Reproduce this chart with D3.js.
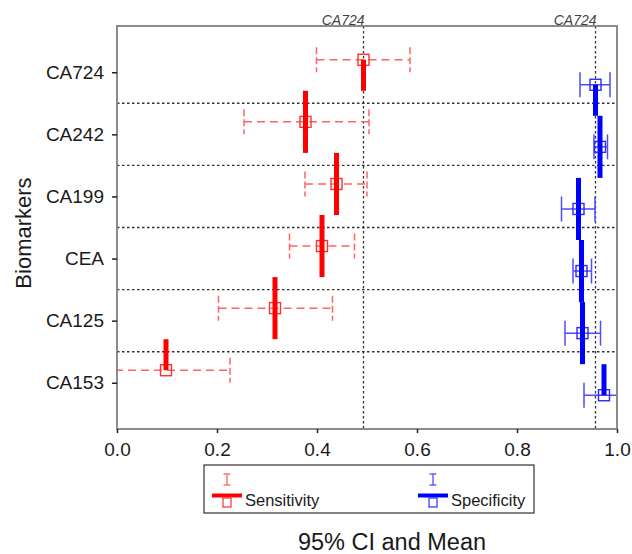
<!DOCTYPE html>
<meta charset="utf-8">
<style>
  body { margin: 0; background: #fff; }
  text { font-family: 'Liberation Sans', Arial, sans-serif; }
</style>
<svg width="632" height="554"></svg>
<script src="https://cdn.jsdelivr.net/npm/d3@7"></script>
<script>

// values
var categories = ["CA724", "CA242", "CA199", "CEA", "CA125", "CA153"];
var sensMean = [0.493, 0.377, 0.439, 0.410, 0.316, 0.098];
var sensLow  = [0.399, 0.254, 0.376, 0.345, 0.203, -0.03];
var sensHigh = [0.586, 0.504, 0.500, 0.475, 0.431, 0.226];
var specMean = [0.957, 0.966, 0.923, 0.929, 0.931, 0.974];
var specLow  = [0.926, 0.954, 0.889, 0.912, 0.896, 0.934];
var specHigh = [0.986, 0.981, 0.956, 0.949, 0.967, 1.01];
var xTicks = [0, 0.2, 0.4, 0.6, 0.8, 1.0];

var svg = d3.select("svg");
var pLeft = 117, pRight = 617, pTop = 26, pBottom = 429;

var x = d3.scaleLinear().domain([0, 1]).range([pLeft, pRight]);
var y = d3.scalePoint().domain(categories).range([pTop, pBottom]).padding(0.745);
var step = y.step();

svg.append("clipPath").attr("id", "plot")
  .append("rect").attr("x", pLeft).attr("y", pTop)
  .attr("width", pRight - pLeft).attr("height", pBottom - pTop);

var plot = svg.append("g").attr("clip-path", "url(#plot)");

// dotted separators between rows
plot.selectAll(".sep")
  .data(categories.slice(1))
  .enter().append("line")
    .attr("x1", pLeft).attr("x2", pRight)
    .attr("y1", function(d) { return y(d) - step / 2; })
    .attr("y2", function(d) { return y(d) - step / 2; })
    .style("stroke", "#333")
    .style("stroke-width", 1.4)
    .style("stroke-dasharray", "2.5,2.5");

// reference lines at the CA724 means
var refs = [sensMean[0], specMean[0]];
plot.selectAll(".ref")
  .data(refs)
  .enter().append("line")
    .attr("x1", function(d) { return x(d); })
    .attr("x2", function(d) { return x(d); })
    .attr("y1", pTop).attr("y2", pBottom)
    .style("stroke", "#333")
    .style("stroke-width", 1.3)
    .style("stroke-dasharray", "2.5,2.5");

svg.selectAll(".reflabel")
  .data(refs)
  .enter().append("text")
    .attr("x", function(d) { return x(d) + 1; })
    .attr("y", pTop - 1.5)
    .attr("text-anchor", "end")
    .style("font-size", "14px")
    .style("font-style", "italic")
    .style("fill", "#444")
    .text("CA724");

function series(mean, low, high, off, opts) {
  var rows = categories.map(function(c, i) {
    return {c: c, m: mean[i], lo: low[i], hi: high[i], y: y(c) + off};
  });
  var g = plot.append("g");

  // CI lines
  g.selectAll(".ci").data(rows).enter().append("line")
    .attr("x1", function(d) { return x(d.lo); })
    .attr("x2", function(d) { return x(d.hi); })
    .attr("y1", function(d) { return d.y; })
    .attr("y2", function(d) { return d.y; })
    .style("stroke", opts.ci)
    .style("stroke-width", 1.5)
    .style("stroke-dasharray", opts.dash);

  var caps = [];
  rows.forEach(function(d) { caps.push({v: d.lo, y: d.y}, {v: d.hi, y: d.y}); });
  g.selectAll(".cap").data(caps).enter().append("line")
    .attr("x1", function(d) { return x(d.v); })
    .attr("x2", function(d) { return x(d.v); })
    .attr("y1", function(d) { return d.y - 12.5; })
    .attr("y2", function(d) { return d.y + 12.5; })
    .style("stroke", opts.ci)
    .style("stroke-width", 1.5)
    .style("stroke-dasharray", opts.capDash);

  // squares at the mean
  g.selectAll(".sq").data(rows).enter().append("rect")
    .attr("x", function(d) { return x(d.m) - 5.5; })
    .attr("y", function(d) { return d.y - 5.5; })
    .attr("width", 11).attr("height", 11)
    .style("fill", "none")
    .style("stroke", opts.sq)
    .style("stroke-width", 1.4);

  // thick step segments through the means
  g.selectAll(".step").data(rows).enter().append("line")
    .attr("x1", function(d) { return x(d.m); })
    .attr("x2", function(d) { return x(d.m); })
    .attr("y1", function(d, i) { return i === 0 ? d.y : d.y - step / 2; })
    .attr("y2", function(d, i) { return i === rows.length - 1 ? d.y : d.y + step / 2; })
    .style("stroke", opts.line)
    .style("stroke-width", 5);
}

series(sensMean, sensLow, sensHigh, -12.5,
  {ci: "#ff6464", sq: "#ff3030", line: "#ff0000", dash: "8,5", capDash: "7,3"});
series(specMean, specLow, specHigh, 12.5,
  {ci: "#4d4dff", sq: "#2a2aff", line: "#0000ff", dash: null, capDash: null});

// frame
svg.append("rect")
  .attr("x", pLeft).attr("y", pTop)
  .attr("width", pRight - pLeft).attr("height", pBottom - pTop)
  .style("fill", "none")
  .style("stroke", "#808080")
  .style("stroke-width", 1.8);

// axes
var xAxis = svg.append("g")
  .attr("transform", "translate(0," + pBottom + ")")
  .call(d3.axisBottom(x).tickValues(xTicks).tickFormat(d3.format(".1f"))
    .tickSize(4).tickSizeOuter(0).tickPadding(10));
xAxis.select(".domain").remove();
xAxis.selectAll("line").style("stroke", "#222").style("stroke-width", 1.5);
xAxis.selectAll("text").style("font-size", "19px").style("fill", "#1a1a1a")
  .style("font-family", "'Liberation Sans', Arial, sans-serif");

var yAxis = svg.append("g")
  .attr("transform", "translate(" + pLeft + ",0)")
  .call(d3.axisLeft(y).tickSize(5).tickSizeOuter(0).tickPadding(8));
yAxis.select(".domain").remove();
yAxis.selectAll("line").style("stroke", "#222").style("stroke-width", 1.5);
yAxis.selectAll("text").style("font-size", "19px").style("fill", "#1a1a1a")
  .style("font-family", "'Liberation Sans', Arial, sans-serif");

// axis titles
svg.append("text")
  .attr("transform", "translate(31,233) rotate(-90)")
  .attr("text-anchor", "middle")
  .style("font-size", "22px")
  .style("fill", "#1a1a1a")
  .text("Biomarkers");

svg.append("text")
  .attr("x", 392).attr("y", 550)
  .attr("text-anchor", "middle")
  .style("font-size", "23.5px")
  .style("fill", "#1a1a1a")
  .text("95% CI and Mean");

// legend
var legendItems = [
  {name: "Sensitivity", ci: "#ff6464", sq: "#ff3030", line: "#ff0000", cx: 227},
  {name: "Specificity", ci: "#4d4dff", sq: "#2a2aff", line: "#0000ff", cx: 433}
];
var legend = svg.append("g");
legend.append("rect")
  .attr("x", 204).attr("y", 465).attr("width", 330).attr("height", 48)
  .style("fill", "#fff").style("stroke", "#333").style("stroke-width", 1.2);

var li = legend.selectAll(".item").data(legendItems).enter().append("g");
li.append("line")
  .attr("x1", function(d) { return d.cx; }).attr("x2", function(d) { return d.cx; })
  .attr("y1", 474).attr("y2", 485)
  .style("stroke", function(d) { return d.ci; }).style("stroke-width", 1.3);
li.append("line")
  .attr("x1", function(d) { return d.cx - 3.5; }).attr("x2", function(d) { return d.cx + 3.5; })
  .attr("y1", 474).attr("y2", 474)
  .style("stroke", function(d) { return d.ci; }).style("stroke-width", 1.3);
li.append("line")
  .attr("x1", function(d) { return d.cx - 3.5; }).attr("x2", function(d) { return d.cx + 3.5; })
  .attr("y1", 485).attr("y2", 485)
  .style("stroke", function(d) { return d.ci; }).style("stroke-width", 1.3);
li.append("line")
  .attr("x1", function(d) { return d.cx - 15; }).attr("x2", function(d) { return d.cx + 15; })
  .attr("y1", 495.5).attr("y2", 495.5)
  .style("stroke", function(d) { return d.line; }).style("stroke-width", 4);
li.append("rect")
  .attr("x", function(d) { return d.cx - 4; }).attr("y", 498)
  .attr("width", 8).attr("height", 9)
  .style("fill", "none")
  .style("stroke", function(d) { return d.sq; }).style("stroke-width", 1.2);
li.append("text")
  .attr("x", function(d) { return d.cx + 18; }).attr("y", 506)
  .style("font-size", "16.5px").style("fill", "#1a1a1a")
  .text(function(d) { return d.name; });

</script>
